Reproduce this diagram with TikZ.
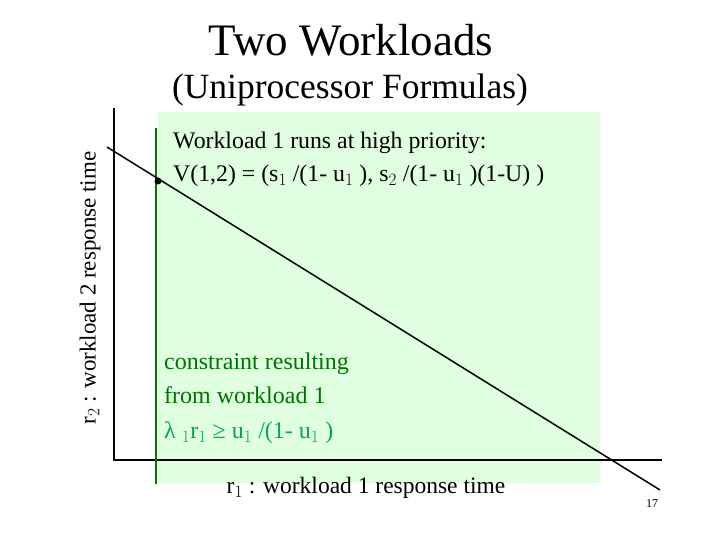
\documentclass[tikz,border=0pt]{standalone}
\usepackage{fontspec}
\setmainfont{Liberation Serif}
\begin{document}
\begin{tikzpicture}[x=1pt,y=-1pt,
  txt/.style={anchor=west,inner sep=0pt,align=left},
  ax/.style={line width=2pt,black}]
\useasboundingbox (0,0) rectangle (720,540);
\fill[white] (0,0) rectangle (720,540);
\fill[green!12] (158,112) rectangle (600,483);
\node[inner sep=0pt] (t1) at (351,40) {\fontsize{45}{48}\selectfont Two Workloads};
\node[inner sep=0pt] (t2) at (350,90) {\fontsize{35.5}{38}\selectfont (Uniprocessor Formulas)};
\coordinate (yt) at (114,108); \coordinate (o) at (114,460); \coordinate (xr) at (662,460);
\draw[ax] (yt) -- (o) -- (xr);
\coordinate (g1) at (156,128); \coordinate (g2) at (156,484);
\draw[green!45!black,line width=2pt] (g1) -- (g2);
\coordinate (d1) at (107,147); \coordinate (d2) at (660,490);
\draw[line width=1.5pt] (d1) -- (d2);
\fill (158,181) circle (3.5pt);
\node[txt] (w1) at (173,143) {\fontsize{23.8}{26}\selectfont Workload 1 runs at high priority:};
\node[txt] (w2) at (173,176) {\fontsize{23.8}{26}\selectfont V(1,2) = (s$_1$ /(1- u$_1$ ), s$_2$ /(1- u$_1$ )(1-U) )};
\node[txt,text=green!45!black] (c1) at (164,364) {\fontsize{24}{26}\selectfont constraint resulting};
\node[txt,text=green!45!black] (c2) at (164,395) {\fontsize{24}{26}\selectfont from workload 1};
\node[txt,text=teal!70!green] (c3) at (164,433) {\fontsize{24}{26}\selectfont λ $_1$r$_1$ ≥ u$_1$ /(1- u$_1$ )};
\node[inner sep=0pt] (xl) at (366,488) {\fontsize{23.5}{26}\selectfont r$_1$ : workload 1 response time};
\node[inner sep=0pt,rotate=90] (yl) at (90,288) {\fontsize{23}{26}\selectfont r$_2$ : workload 2 response time};
\node[inner sep=0pt] (pg) at (652,504) {\fontsize{12}{14}\selectfont 17};
\end{tikzpicture}
\end{document}
